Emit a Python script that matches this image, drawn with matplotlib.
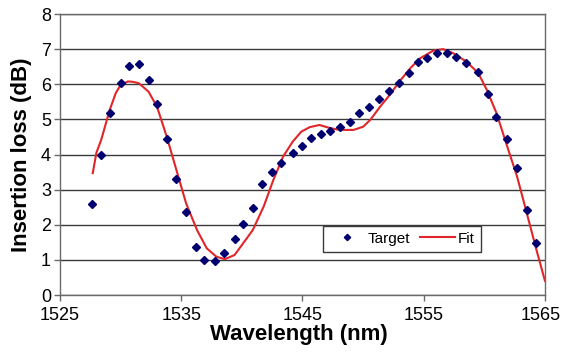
import matplotlib
matplotlib.use("Agg")
import matplotlib.pyplot as plt
from matplotlib.transforms import ScaledTranslation

plt.rcParams['font.family'] = ['Liberation Sans', 'DejaVu Sans']

# measured target points (wavelength nm, insertion loss dB)
target_wl = [1527.6, 1528.4, 1529.1, 1530.0, 1530.7, 1531.5, 1532.3, 1533.0,
             1533.8, 1534.6, 1535.4, 1536.2, 1536.9, 1537.8, 1538.5, 1539.4,
             1540.1, 1540.9, 1541.7, 1542.5, 1543.2, 1544.2, 1545.0, 1545.7,
             1546.5, 1547.3, 1548.1, 1548.9, 1549.7, 1550.5, 1551.3, 1552.1,
             1553.0, 1553.8, 1554.5, 1555.3, 1556.1, 1556.9, 1557.7, 1558.5,
             1559.5, 1560.3, 1561.0, 1561.9, 1562.7, 1563.5, 1564.3]
target_il = [2.58, 3.99, 5.19, 6.03, 6.53, 6.57, 6.12, 5.43,
             4.43, 3.30, 2.36, 1.36, 1.00, 0.97, 1.19, 1.60,
             2.02, 2.47, 3.15, 3.49, 3.75, 4.04, 4.25, 4.47,
             4.58, 4.67, 4.79, 4.92, 5.18, 5.34, 5.58, 5.82,
             6.05, 6.33, 6.62, 6.74, 6.89, 6.89, 6.77, 6.60,
             6.36, 5.72, 5.08, 4.44, 3.61, 2.42, 1.47]

# fitted curve
fit_wl = [1527.7, 1528.0, 1528.4, 1529.1, 1529.6, 1530.0, 1530.6, 1531.0,
          1531.5, 1532.3, 1533.0, 1533.8, 1534.6, 1535.4, 1536.3, 1537.1,
          1537.9, 1538.6, 1539.4, 1540.1, 1540.9, 1541.8, 1542.6, 1543.4,
          1544.2, 1544.9, 1545.6, 1546.4, 1547.3, 1548.1, 1549.2, 1550.0,
          1550.6, 1551.4, 1552.2, 1553.0, 1553.9, 1554.7, 1555.8, 1556.6,
          1557.4, 1558.5, 1559.5, 1560.2, 1561.0, 1561.8, 1562.7, 1563.5,
          1564.3, 1565.0]
fit_il = [3.47, 4.05, 4.42, 5.27, 5.75, 5.98, 6.08, 6.07,
          6.03, 5.79, 5.36, 4.51, 3.56, 2.61, 1.85, 1.33,
          1.09, 1.02, 1.14, 1.47, 1.85, 2.52, 3.28, 3.94,
          4.37, 4.65, 4.78, 4.84, 4.75, 4.70, 4.70, 4.79,
          4.99, 5.36, 5.70, 6.08, 6.46, 6.74, 6.96, 7.00,
          6.89, 6.65, 6.32, 5.84, 5.18, 4.32, 3.37, 2.33,
          1.28, 0.40]

x_ticks = [1525, 1535, 1545, 1555, 1565]

fig = plt.figure(figsize=(5.63, 3.53), dpi=100)
ax = fig.add_axes([0.1066, 0.1643, 0.8614, 0.796])

ax.plot(target_wl, target_il, linestyle='none', marker='D', markersize=4.0,
        color='#000070', label='Target', zorder=3)
ax.plot(fit_wl, fit_il, color='#e0262a', linewidth=1.5, label='Fit', zorder=2)

ax.set_xlim(1525, 1565)
ax.set_ylim(0, 8)
ax.set_xticks(x_ticks)
ax.set_yticks(range(0, 9))
ax.grid(axis='y', color='#3a3a3a', linewidth=1.0)
ax.set_axisbelow(True)
for s in ax.spines.values():
    s.set_color('#6a6a6a')
    s.set_linewidth(1.0)
ax.tick_params(direction='out', length=4, width=1, color='#6a6a6a',
               labelsize=13)
ax.tick_params(axis='x', pad=4.5)
ax.tick_params(axis='y', pad=2.5)

# keep the last x label inside the figure
last = ax.get_xticklabels()[-1]
last.set_transform(last.get_transform() +
                   ScaledTranslation(-3 / 72, 0, fig.dpi_scale_trans))

ax.set_xlabel('Wavelength (nm)', fontsize=16, fontweight='bold')
ax.set_ylabel('Insertion loss (dB)', fontsize=16, fontweight='bold')
ax.xaxis.set_label_coords(0.493, -0.103)
ax.yaxis.set_label_coords(-0.058, 0.5)

leg = ax.legend(loc='center', bbox_to_anchor=(0.705, 0.20), ncol=2,
                fontsize=11, frameon=True, fancybox=False, framealpha=1,
                edgecolor='#3a3a3a', handlelength=2.3, columnspacing=0.65,
                handletextpad=0.2, markerscale=0.8, borderpad=0.4)
leg.get_frame().set_linewidth(1.0)

fig.savefig('out.png', dpi=100)
